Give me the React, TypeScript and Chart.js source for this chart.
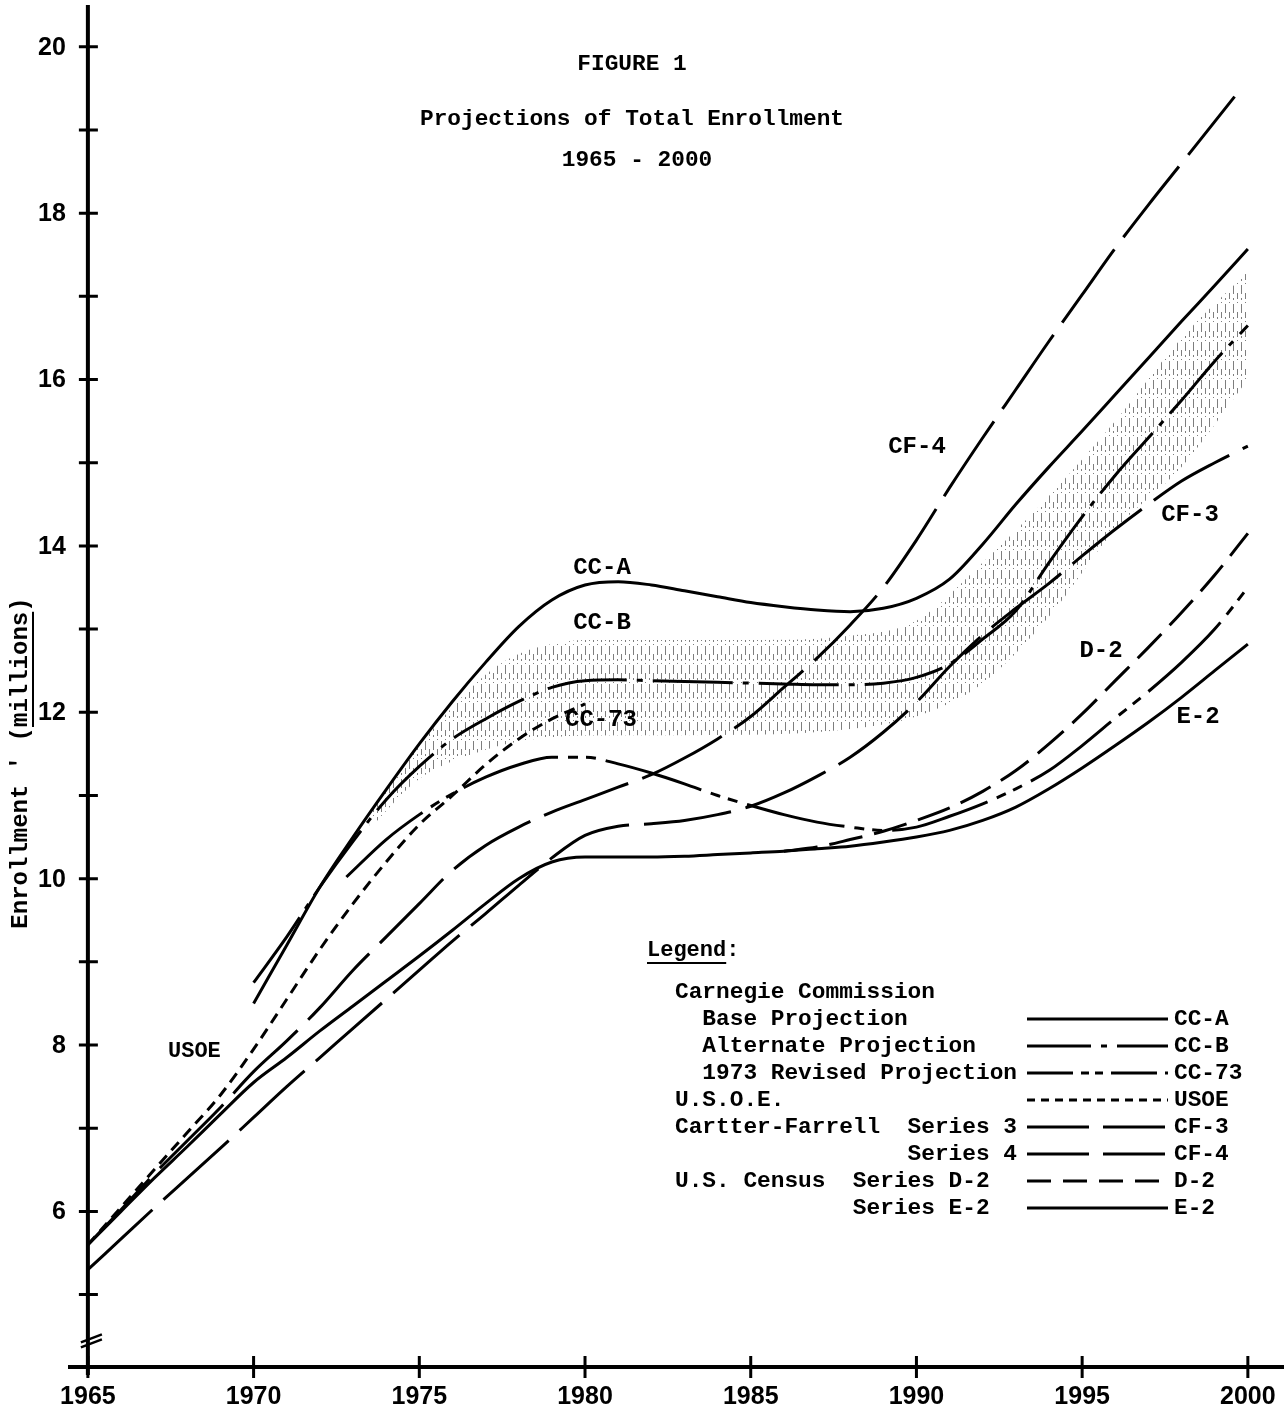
import { useEffect, useRef } from 'react';
import { Chart, registerables } from 'chart.js';

Chart.register(...registerables);

// ---------- data (millions of students) ----------
const YEARS = [
  1965, 1966, 1967, 1968, 1969, 1970, 1971, 1972, 1973, 1974, 1975, 1976,
  1977, 1978, 1979, 1980, 1981, 1982, 1983, 1984, 1985, 1986, 1987, 1988,
  1989, 1990, 1991, 1992, 1993, 1994, 1995, 1996, 1997, 1998, 1999, 2000,
];
const YEARS_1970 = YEARS.slice(5);
const YEARS_1980 = YEARS.slice(0, 16);
const YEARS_1986 = YEARS.slice(21);

const CCA_VALUES = [
  8.5, 9.2, 9.9, 10.5, 11.07, 11.62, 12.13, 12.6, 13.03, 13.35, 13.53, 13.57,
  13.53, 13.46, 13.39, 13.32, 13.27, 13.23, 13.21, 13.25, 13.37, 13.6, 14.02,
  14.5, 14.95, 15.38, 15.82, 16.26, 16.7, 17.13, 17.57,
];
const CCB_VALUES = [
  8.75, 9.3, 9.9, 10.45, 10.95, 11.35, 11.68, 11.92, 12.13, 12.3, 12.38, 12.39,
  12.38, 12.37, 12.36, 12.35, 12.34, 12.33, 12.33, 12.35, 12.42, 12.58, 12.88,
  13.22, 13.8, 14.35, 14.85, 15.3, 15.75, 16.22, 16.65,
];
const CC73_YEARS = [
  1972.8, 1974, 1975, 1976, 1977, 1978, 1979, 1980, 1981, 1982, 1983, 1984,
  1985, 1986, 1987, 1988, 1989, 1990, 1991, 1992, 1993, 1994, 1995, 1996,
  1997, 1998, 1999, 2000,
];
const CC73_VALUES = [
  10.02, 10.47, 10.77, 11.02, 11.22, 11.37, 11.46, 11.46, 11.38, 11.27, 11.14,
  11.0, 10.88, 10.77, 10.68, 10.62, 10.58, 10.62, 10.75, 10.9, 11.08, 11.3,
  11.6, 11.93, 12.25, 12.6, 13.0, 13.5,
];
const USOE_VALUES = [
  5.6, 6.05, 6.5, 6.95, 7.4, 7.95, 8.55, 9.15, 9.7, 10.2, 10.65, 11.0, 11.37,
  11.68, 11.92, 12.1,
];
const CF3_VALUES = [
  5.3, 5.67, 6.04, 6.4, 6.76, 7.13, 7.5, 7.85, 8.2, 8.55, 8.9, 9.25, 9.58, 9.92,
  10.25, 10.52, 10.63, 10.66, 10.7, 10.77, 10.87, 11.03, 11.23, 11.46, 11.76,
  12.12, 12.55, 12.93, 13.25, 13.55, 13.88, 14.2, 14.5, 14.78, 15.0, 15.2,
];
const CF4_YEARS = [...YEARS.slice(0, 35), 1999.6];
const CF4_VALUES = [
  5.6, 6.02, 6.45, 6.85, 7.25, 7.68, 8.05, 8.45, 8.9, 9.3, 9.7, 10.1, 10.4,
  10.62, 10.8, 10.95, 11.1, 11.25, 11.45, 11.68, 11.95, 12.3, 12.65, 13.05,
  13.5, 14.07, 14.7, 15.3, 15.88, 16.46, 17.02, 17.58, 18.1, 18.6, 19.1, 19.4,
];
const D2_VALUES = [
  10.33, 10.38, 10.47, 10.57, 10.7, 10.85, 11.05, 11.3, 11.62, 11.98, 12.38,
  12.78, 13.2, 13.65, 14.15,
];
const E2_VALUES = [
  5.6, 6.0, 6.4, 6.78, 7.17, 7.55, 7.85, 8.17, 8.47, 8.77, 9.07, 9.38, 9.7,
  10.0, 10.2, 10.26, 10.26, 10.26, 10.27, 10.29, 10.31, 10.33, 10.36, 10.39,
  10.44, 10.5, 10.58, 10.7, 10.86, 11.08, 11.33, 11.6, 11.88, 12.18, 12.5,
  12.82,
];
// stippled range band
const BAND_YEARS = [
  1973.5, 1975, 1977, 1978, 1979, 1980, 1985, 1988, 1990, 1992, 1994, 1996,
  1998, 2000,
];
const BAND_UPPER = [
  10.8, 11.6, 12.45, 12.7, 12.82, 12.87, 12.87, 12.92, 13.1, 13.8, 14.6, 15.5,
  16.5, 17.3,
];
const BAND_LOWER = [
  10.6, 11.2, 11.55, 11.65, 11.7, 11.72, 11.73, 11.8, 11.95, 12.35, 13.15,
  14.2, 14.95, 16.0,
];

// ---------- axes & text ----------
const X_TICKS = [1965, 1970, 1975, 1980, 1985, 1990, 1995, 2000];
const Y_TICKS = [5, 6, 7, 8, 9, 10, 11, 12, 13, 14, 15, 16, 17, 18, 19, 20];
const Y_LABELS = [6, 8, 10, 12, 14, 16, 18, 20];
const TITLE_LINES = ['FIGURE 1', 'Projections of Total Enrollment', '1965 - 2000'];
const Y_TITLE = "Enrollment ' (millions)";
const LEGEND_HEADING = 'Legend:';
const LEGEND_TEXTS = [
  'Carnegie Commission',
  '  Base Projection',
  '  Alternate Projection',
  '  1973 Revised Projection',
  'U.S.O.E.',
  'Cartter-Farrell  Series 3',
  '                 Series 4',
  'U.S. Census  Series D-2',
  '             Series E-2',
];
const LEGEND_CODES = ['', 'CC-A', 'CC-B', 'CC-73', 'USOE', 'CF-3', 'CF-4', 'D-2', 'E-2'];

const DASH: Record<string, number[]> = {
  'CC-A': [],
  'CC-B': [80, 10, 6, 10],
  'CC-73': [100, 10, 10, 8, 10, 10],
  USOE: [11, 7],
  'CF-3': [88, 15],
  'CF-4': [90, 15],
  'D-2': [34, 12],
  'E-2': [],
};
const LEGEND_DASH: Record<string, number[]> = {
  'CC-A': [],
  'CC-B': [64, 10, 6, 10],
  'CC-73': [46, 8, 8, 6, 8, 8],
  USOE: [8, 6],
  'CF-3': [62, 14],
  'CF-4': [62, 14],
  'D-2': [24, 12],
  'E-2': [],
};

const MONO = "'Liberation Mono', 'DejaVu Sans Mono', monospace";
const SANS = "'Liberation Sans', 'DejaVu Sans', sans-serif";

function series(label: string, xs: number[], ys: number[]) {
  return {
    label,
    data: xs.map((x, i) => ({ x, y: ys[i] })),
    borderColor: '#000',
    backgroundColor: '#000',
    borderWidth: 3,
    borderDash: DASH[label],
    borderCapStyle: 'butt' as const,
    pointRadius: 0,
    fill: false,
    cubicInterpolationMode: 'monotone' as const,
  };
}

export default function App() {
  const ref = useRef<HTMLCanvasElement | null>(null);

  useEffect(() => {
    const canvas = ref.current;
    if (!canvas) return;

    // stipple pattern for the range band
    const pc = document.createElement('canvas');
    pc.width = 8;
    pc.height = 19;
    const p = pc.getContext('2d')!;
    p.fillStyle = 'rgba(40,40,40,0.6)';
    p.fillRect(1, 0, 1, 9);
    p.fillRect(5, 8, 1, 6);
    p.fillRect(5, 17, 1, 1);
    p.fillRect(1, 13, 1, 2);
    const pattern = canvas.getContext('2d')!.createPattern(pc, 'repeat');

    const overlay = {
      id: 'overlay',
      afterDatasetsDraw(chart: any) {
        const ctx = chart.ctx as CanvasRenderingContext2D;
        const xs = chart.scales.x;
        const ys = chart.scales.y;
        const ax = xs.getPixelForValue(1965);
        const ay = ys.getPixelForValue(ys.min);
        ctx.save();
        ctx.strokeStyle = '#000';
        ctx.fillStyle = '#000';
        ctx.setLineDash([]);

        // axes
        ctx.lineWidth = 4;
        ctx.beginPath();
        ctx.moveTo(ax, chart.chartArea.top - 1);
        ctx.lineTo(ax, ay + 8);
        ctx.moveTo(chart.chartArea.left, ay);
        ctx.lineTo(chart.chartArea.right + 3, ay);
        ctx.stroke();

        // ticks
        ctx.lineWidth = 3;
        ctx.beginPath();
        X_TICKS.forEach((t) => {
          const x = xs.getPixelForValue(t);
          ctx.moveTo(x, ay - 11);
          ctx.lineTo(x, ay + 11);
        });
        Y_TICKS.forEach((t) => {
          const y = ys.getPixelForValue(t);
          ctx.moveTo(ax - 9, y);
          ctx.lineTo(ax + 10, y);
        });
        ctx.stroke();

        // axis break
        const by = ys.getPixelForValue(4.45);
        ctx.lineWidth = 2.5;
        ctx.beginPath();
        ctx.moveTo(ax - 7, by + 2);
        ctx.lineTo(ax + 14, by - 6);
        ctx.moveTo(ax - 7, by + 7);
        ctx.lineTo(ax + 14, by - 1);
        ctx.stroke();

        // tick labels
        ctx.font = `bold 25px ${SANS}`;
        ctx.textAlign = 'center';
        ctx.textBaseline = 'middle';
        X_TICKS.forEach((t) => ctx.fillText(String(t), xs.getPixelForValue(t), ay + 30));
        ctx.textAlign = 'right';
        Y_LABELS.forEach((t) => ctx.fillText(String(t), ax - 22, ys.getPixelForValue(t) + 1));

        // y title
        ctx.save();
        ctx.translate(21, 763);
        ctx.rotate(-Math.PI / 2);
        ctx.font = `bold 24px ${MONO}`;
        ctx.textAlign = 'center';
        ctx.fillText(Y_TITLE, 0, 0);
        const w = ctx.measureText(Y_TITLE).width;
        const cw = w / Y_TITLE.length;
        ctx.fillRect(-w / 2 + cw * 14, 11, cw * 8, 2);
        ctx.restore();

        // title
        ctx.font = `bold 22.8px ${MONO}`;
        ctx.textAlign = 'center';
        ctx.fillText(TITLE_LINES[0], 632, 64);
        ctx.fillText(TITLE_LINES[1], 632, 119);
        ctx.fillText(TITLE_LINES[2], 637, 160);

        // curve labels
        ctx.font = `bold 24px ${MONO}`;
        ctx.fillText('CC-A', 602, 568);
        ctx.fillText('CC-B', 602, 623);
        ctx.fillText('CC-73', 601, 720);
        ctx.fillText('CF-4', 917, 447);
        ctx.fillText('CF-3', 1190, 515);
        ctx.fillText('D-2', 1101, 651);
        ctx.fillText('E-2', 1198, 717);
        ctx.textAlign = 'left';
        ctx.font = `bold 22px ${MONO}`;
        ctx.fillText('USOE', 168, 1051);

        // legend
        ctx.font = `bold 22px ${MONO}`;
        ctx.fillText(LEGEND_HEADING, 647, 950);
        const hw = ctx.measureText('Legend').width;
        ctx.fillRect(647, 962, hw, 2);
        ctx.font = `bold 22.8px ${MONO}`;
        LEGEND_TEXTS.forEach((txt, i) => {
          const y = 992 + i * 27;
          ctx.fillText(txt, 675, y);
          const code = LEGEND_CODES[i];
          if (code) {
            ctx.fillText(code, 1174, y);
            ctx.lineWidth = 3;
            ctx.setLineDash(LEGEND_DASH[code]);
            ctx.beginPath();
            ctx.moveTo(1027, y);
            ctx.lineTo(1168, y);
            ctx.stroke();
            ctx.setLineDash([]);
          }
        });
        ctx.restore();
      },
    };

    const chart = new Chart(canvas, {
      type: 'line',
      data: {
        datasets: [
          {
            label: 'band-upper',
            data: BAND_YEARS.map((x, i) => ({ x, y: BAND_UPPER[i] })),
            borderColor: 'rgba(0,0,0,0)',
            borderWidth: 0,
            pointRadius: 0,
            backgroundColor: pattern as any,
            fill: '+1',
            cubicInterpolationMode: 'monotone',
          },
          {
            label: 'band-lower',
            data: BAND_YEARS.map((x, i) => ({ x, y: BAND_LOWER[i] })),
            borderColor: 'rgba(0,0,0,0)',
            borderWidth: 0,
            pointRadius: 0,
            fill: false,
            cubicInterpolationMode: 'monotone',
          },
          series('CC-A', YEARS_1970, CCA_VALUES),
          series('CC-B', YEARS_1970, CCB_VALUES),
          series('CC-73', CC73_YEARS, CC73_VALUES),
          series('USOE', YEARS_1980, USOE_VALUES),
          series('CF-3', YEARS, CF3_VALUES),
          series('CF-4', CF4_YEARS, CF4_VALUES),
          series('D-2', YEARS_1986, D2_VALUES),
          series('E-2', YEARS, E2_VALUES),
        ] as any,
      },
      options: {
        animation: false,
        responsive: false,
        devicePixelRatio: 1,
        layout: { padding: { left: 68, right: 3, top: 6, bottom: 49 } },
        scales: {
          x: { type: 'linear', min: 1964.4, max: 2001, display: false },
          y: { type: 'linear', min: 4.13, max: 20.49, display: false },
        },
        plugins: {
          legend: { display: false },
          tooltip: { enabled: false },
          filler: { drawTime: 'beforeDatasetsDraw' } as any,
        },
        events: [],
      },
      plugins: [overlay],
    });

    return () => chart.destroy();
  }, []);

  return (
    <div style={{ position: 'absolute', left: 0, top: 0, width: 1284, height: 1416, background: '#fff' }}>
      <canvas ref={ref} width={1284} height={1416} style={{ display: 'block', width: 1284, height: 1416 }} />
    </div>
  );
}
